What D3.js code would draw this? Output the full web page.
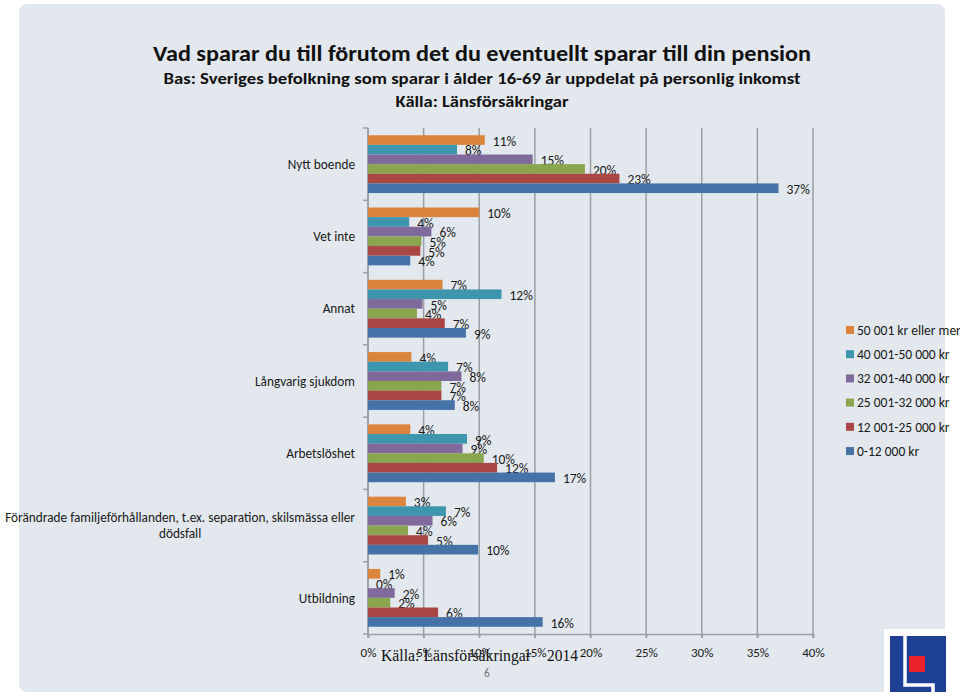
<!DOCTYPE html>
<html><head><meta charset="utf-8">
<script src="https://cdn.jsdelivr.net/npm/d3@7"></script>
<style>body{margin:0;background:#fff} svg{display:block}</style>
</head><body>
<svg id="chart" width="960" height="696"></svg>
<script>
// ---- data ----
const categories = ["Nytt boende", "Vet inte", "Annat", "Långvarig sjukdom", "Arbetslöshet",
  "Förändrade familjeförhållanden, t.ex. separation, skilsmässa eller dödsfall", "Utbildning"];
const seriesNames = ["50 001 kr eller mer", "40 001-50 000 kr", "32 001-40 000 kr",
  "25 001-32 000 kr", "12 001-25 000 kr", "0-12 000 kr"];
const seriesColors = ["#DB843D", "#3D96AE", "#80699B", "#89A54E", "#AA4643", "#4572A7"];
const s50001plus = [10.5, 10.0, 6.7, 3.9, 3.8, 3.4, 1.1];
const s40001     = [8.0, 3.7, 12.0, 7.2, 8.9, 7.0, 0.0];
const s32001     = [14.8, 5.7, 4.9, 8.4, 8.5, 5.8, 2.4];
const s25001     = [19.5, 4.8, 4.4, 6.6, 10.4, 3.6, 2.0];
const s12001     = [22.6, 4.7, 6.9, 6.6, 11.6, 5.4, 6.3];
const s0_12000   = [36.9, 3.8, 8.8, 7.8, 16.8, 9.9, 15.7];
const seriesValues = [s50001plus, s40001, s32001, s25001, s12001, s0_12000];
const valueLabels = [
  [11, 10, 7, 4, 4, 3, 1],
  [8, 4, 12, 7, 9, 7, 0],
  [15, 6, 5, 8, 9, 6, 2],
  [20, 5, 4, 7, 10, 4, 2],
  [23, 5, 7, 7, 12, 5, 6],
  [37, 4, 9, 8, 17, 10, 16]
];
const xTicks = [0, 5, 10, 15, 20, 25, 30, 35, 40];
const titleLines = ["Vad sparar du till förutom det du eventuellt sparar till din pension",
  "Bas: Sveriges befolkning som sparar i ålder 16-69 år uppdelat på personlig inkomst",
  "Källa: Länsförsäkringar"];
const footSource = "Källa: Länsförsäkringar";
const footYear = "2014";
const pageNumber = "6";

// ---- drawing ----
const FONT = "Carlito, Lato, 'Open Sans', sans-serif";
const SERIF = "'Liberation Serif', 'Times New Roman', serif";
const TXT = "#1a1a1a";
const svg = d3.select("#chart");

svg.append("rect").attr("x", 19).attr("y", 4).attr("width", 926).attr("height", 688)
  .attr("rx", 8).attr("fill", "#e2e8ed");

// titles
const tSpec = [{y: 61, size: 22, w: 658}, {y: 84, size: 16, w: 637}, {y: 107, size: 16, w: 173}];
titleLines.forEach((t, i) => {
  svg.append("text").attr("x", 482).attr("y", tSpec[i].y).attr("text-anchor", "middle")
    .attr("font-family", FONT).attr("font-weight", "bold").attr("font-size", tSpec[i].size)
    .attr("fill", "#111").attr("textLength", tSpec[i].w).attr("lengthAdjust", "spacingAndGlyphs")
    .text(t);
});

const x = d3.scaleLinear().domain([0, 40]).range([368, 813]);
const y = d3.scaleBand().domain(categories).range([128, 634]).paddingInner(0.2).paddingOuter(0.1);
const ySub = d3.scaleBand().domain(seriesNames).range([0, y.bandwidth()]);

// gridlines
svg.append("g").selectAll("line").data(xTicks).join("line")
  .attr("x1", d => x(d)).attr("x2", d => x(d)).attr("y1", 128).attr("y2", 638)
  .attr("stroke", "#9a9fa4").attr("stroke-width", 1.5);

// x axis
const xAxis = svg.append("g").attr("transform", "translate(0,634)")
  .call(d3.axisBottom(x).tickValues(xTicks).tickFormat(d => d + "%").tickSize(4).tickPadding(10));
xAxis.select(".domain").attr("stroke", "#9a9fa4").attr("stroke-width", 1.5);
xAxis.selectAll(".tick line").attr("stroke", "#9a9fa4").attr("stroke-width", 1.5);
xAxis.selectAll("text").attr("font-family", FONT).attr("font-size", 13).attr("fill", TXT);

// y axis line + ticks at band boundaries
const step = y.step();
const bounds = d3.range(categories.length + 1).map(i => 128 + i * step);
svg.append("line").attr("x1", 368).attr("x2", 368).attr("y1", 128).attr("y2", 634)
  .attr("stroke", "#9a9fa4").attr("stroke-width", 1.5);
svg.append("g").selectAll("line").data(bounds).join("line")
  .attr("x1", 363).attr("x2", 368).attr("y1", d => d).attr("y2", d => d)
  .attr("stroke", "#9a9fa4").attr("stroke-width", 1.5);

// category labels
categories.forEach((c, i) => {
  const cy = y(c) + y.bandwidth() / 2;
  if (c.length > 40) {
    const l1 = "Förändrade familjeförhållanden, t.ex. separation, skilsmässa eller";
    const l2 = "dödsfall";
    const t1 = svg.append("text").attr("x", 355).attr("y", cy - 8).attr("dy", "0.35em")
      .attr("text-anchor", "end").attr("font-family", FONT).attr("font-size", 13.3).attr("fill", TXT).text(l1);
    const w = t1.node().getComputedTextLength();
    svg.append("text").attr("x", 355 - w / 2).attr("y", cy + 8).attr("dy", "0.35em")
      .attr("text-anchor", "middle").attr("font-family", FONT).attr("font-size", 13.3).attr("fill", TXT).text(l2);
  } else {
    svg.append("text").attr("x", 355).attr("y", cy).attr("dy", "0.35em")
      .attr("text-anchor", "end").attr("font-family", FONT).attr("font-size", 13.3).attr("fill", TXT).text(c);
  }
});

// bars
seriesNames.forEach((s, si) => {
  const g = svg.append("g");
  g.selectAll("rect").data(categories).join("rect")
    .attr("x", x(0)).attr("y", c => y(c) + ySub(s))
    .attr("width", (c, ci) => x(seriesValues[si][ci]) - x(0))
    .attr("height", ySub.bandwidth())
    .attr("fill", seriesColors[si]);
  g.selectAll("text").data(categories).join("text")
    .attr("x", (c, ci) => x(seriesValues[si][ci]) + 8)
    .attr("y", c => y(c) + ySub(s) + ySub.bandwidth() / 2 + 1)
    .attr("dy", "0.35em")
    .attr("font-family", FONT).attr("font-size", 13.5).attr("fill", TXT)
    .text((c, ci) => valueLabels[si][ci] + "%");
});

// legend
const leg = svg.append("g");
seriesNames.forEach((s, i) => {
  const ly = 330 + i * 24.2;
  leg.append("rect").attr("x", 846).attr("y", ly - 4).attr("width", 8).attr("height", 8).attr("fill", seriesColors[i]);
  leg.append("text").attr("x", 857).attr("y", ly).attr("dy", "0.35em")
    .attr("font-family", FONT).attr("font-size", 13.5).attr("fill", TXT).text(s);
});

// footer
svg.append("text").attr("x", 381).attr("y", 661).attr("font-family", SERIF)
  .attr("font-size", 17.5).attr("fill", "#111")
  .attr("textLength", 150).attr("lengthAdjust", "spacingAndGlyphs").text(footSource);
svg.append("text").attr("x", 547).attr("y", 661).attr("font-family", SERIF)
  .attr("font-size", 17.5).attr("fill", "#111")
  .attr("textLength", 31).attr("lengthAdjust", "spacingAndGlyphs").text(footYear);
svg.append("text").attr("x", 487).attr("y", 673).attr("dy", "0.35em").attr("text-anchor", "middle")
  .attr("font-family", FONT).attr("font-size", 11.5).attr("fill", "#777").text(pageNumber);

// logo
const logo = svg.append("g");
logo.append("rect").attr("x", 884).attr("y", 629).attr("width", 62).attr("height", 67).attr("fill", "#fff");
logo.append("rect").attr("x", 890).attr("y", 636).attr("width", 56).attr("height", 56).attr("fill", "#1d3f94");
logo.append("polyline").attr("points", "905,636 905,685 933,685 933,692")
  .attr("fill", "none").attr("stroke", "#fff").attr("stroke-width", 3.5);
logo.append("rect").attr("x", 909).attr("y", 656).attr("width", 16).attr("height", 16).attr("fill", "#e8212b");
</script>
</body></html>
